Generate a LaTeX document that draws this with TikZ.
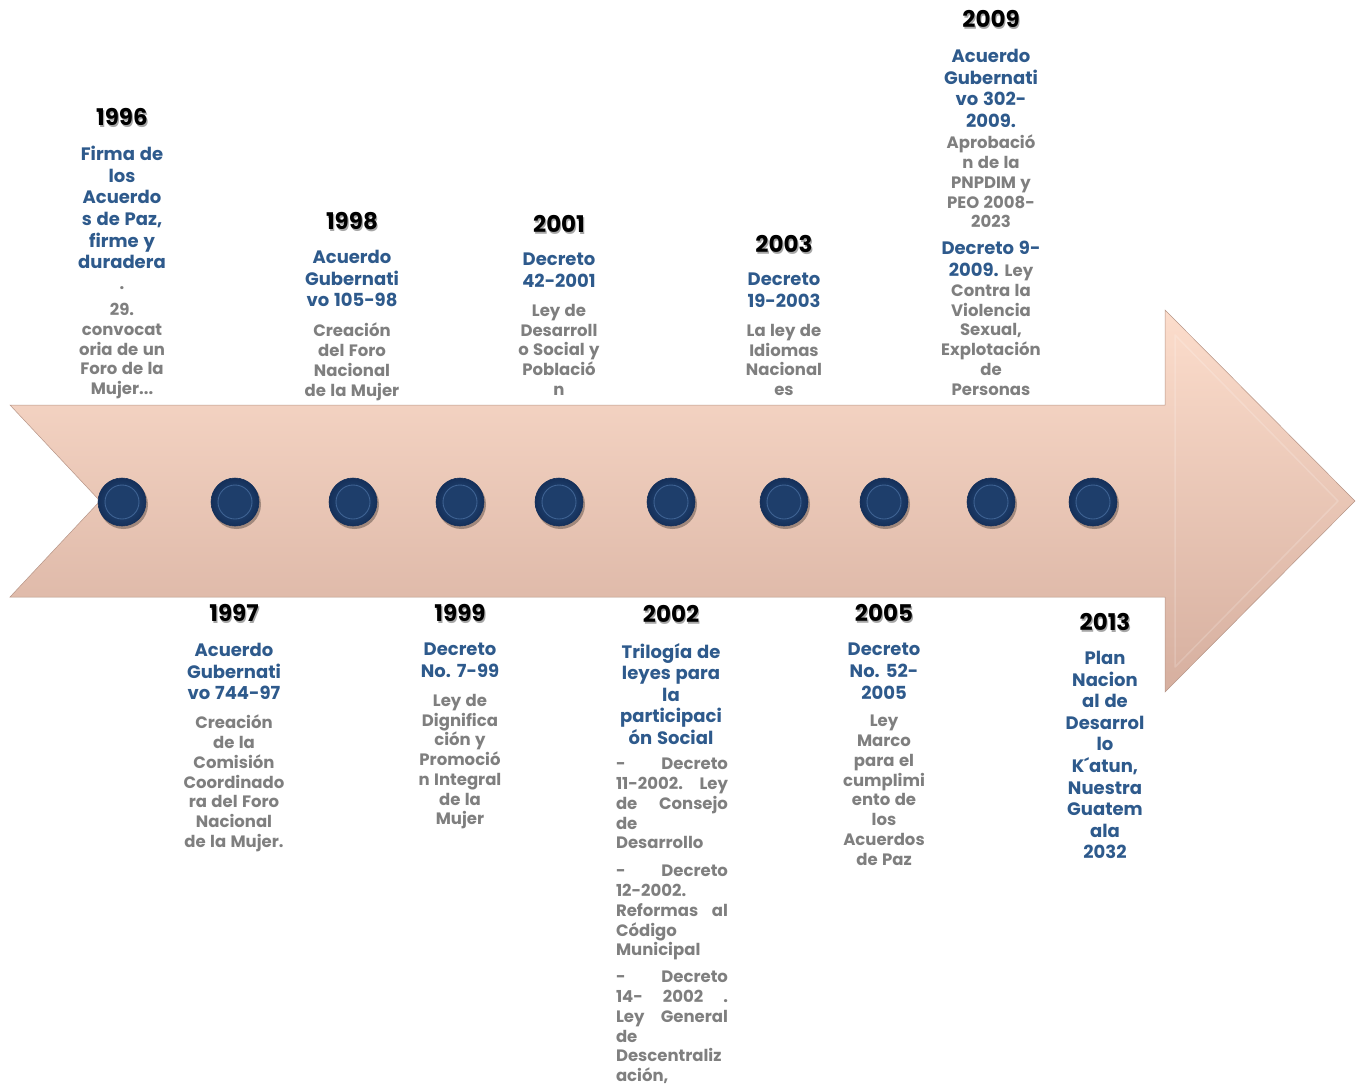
\documentclass[tikz,border=0pt]{standalone}
\usepackage{fontspec}
\setmainfont{Poppins}[WordSpace={1.25}]
\definecolor{tblue}{HTML}{2E5A8C}
\definecolor{tgrey}{HTML}{7F7F7F}
\definecolor{peachT}{HTML}{FCDDCC}
\definecolor{peachB}{HTML}{D6AF9F}
\definecolor{navyA}{HTML}{2A5182}
\definecolor{navyB}{HTML}{15305A}
\definecolor{navyC}{HTML}{1E3E6B}
\definecolor{navyR}{HTML}{3F6394}
\tikzset{
  yr/.style={font=\fontsize{23}{27}\selectfont\bfseries, text=black, inner sep=0pt, anchor=north},
  yrsh/.style={font=\fontsize{23}{27}\selectfont\bfseries, text=black!35, inner sep=0pt, anchor=north},
  bl/.style={font=\fontsize{18}{21.6}\selectfont\bfseries, text=tblue, align=center, inner sep=0pt, anchor=north},
  gr/.style={font=\fontsize{16.5}{19.75}\selectfont\bfseries, text=tgrey, align=center, inner sep=0pt, anchor=north},
  grj/.style={font=\fontsize{16.5}{19.75}\selectfont\bfseries, text=tgrey, align=left, inner sep=0pt, anchor=north},
  dot/.style={shape=circle, minimum size=48pt, inner sep=0pt, draw=navyB, line width=0.6pt, inner color=navyA, outer color=navyB},
}
\newcommand{\yearlabel}[3]{%
  \node[yrsh] at ([xshift=1.2pt,yshift=-2pt]#1) {#3};
  \node[yr] (#2) at (#1) {#3};}
\newcommand{\jl}[1]{\makebox[112pt][s]{#1}}
\begin{document}
\begin{tikzpicture}[x=1pt,y=-1pt]
\useasboundingbox (0,0) rectangle (1363,1085);
% arrow
\path[top color=peachT, bottom color=peachB, draw=peachB!85!black, line width=0.5pt]
  (10,405) -- (1165,405) -- (1165,310) -- (1355,501) -- (1165,692) -- (1165,597)
  -- (10,597) -- (100,501) -- cycle;
\draw[white, opacity=0.18, line width=1.5pt, line join=round]
  (1175,335) -- (1338,501) -- (1175,667) -- cycle;
% dots
\foreach \n/\x in {1/122,2/235,3/353,4/460,5/559,6/671,7/784,8/884,9/991,10/1093}{
  \fill[black, opacity=0.3] (\x+1.5,504.5) circle (24.5);
  \node[dot] (c\n) at (\x,502) {};
  \fill[navyC] (c\n) circle (16.5);
  \draw[navyR, line width=0.9pt] (c\n) circle (17);
}
% ---------- top labels ----------
\yearlabel{122,108}{y1996}{1996}
\node[bl] (b1996) at (122,146) {Firma de\\los\\Acuerdo\\s de Paz,\\firme y\\duradera};
\node[gr, anchor=base] (p1996) at (122,289) {.};
\node[gr] (g1996) at (122,303) {29.\\convocat\\oria de un\\Foro de la\\Mujer...};

\yearlabel{352,212}{y1998}{1998}
\node[bl] (b1998) at (352,250) {Acuerdo\\Gubernati\\vo 105-98};
\node[gr] (g1998) at (352,323) {Creación\\del Foro\\Nacional\\de la Mujer};

\yearlabel{559,215}{y2001}{2001}
\node[bl] (b2001) at (559,253) {Decreto\\42-2001};
\node[gr] (g2001) at (559,304) {Ley de\\Desarroll\\o Social y\\Població\\n};

\yearlabel{784,235}{y2003}{2003}
\node[bl] (b2003) at (784,273) {Decreto\\19-2003};
\node[gr] (g2003) at (784,324) {La ley de\\Idiomas\\Nacional\\es};

\yearlabel{991,10}{y2009}{2009}
\node[bl] (b2009) at (991,49) {Acuerdo\\Gubernati\\vo 302-\\2009.};
\node[gr] (g2009) at (991,135) {Aprobació\\n de la\\PNPDIM y\\PEO 2008-\\2023};
\node[bl] (b2009b) at (991,241) {Decreto 9-\\2009. {\color{tgrey}\fontsize{16.5}{19.75}\selectfont Ley}};
\node[gr] (g2009b) at (991,284) {Contra la\\Violencia\\Sexual,\\Explotación\\de\\Personas};

% ---------- bottom labels ----------
\yearlabel{234,604}{y1997}{1997}
\node[bl] (b1997) at (234,643) {Acuerdo\\Gubernati\\vo 744-97};
\node[gr] (g1997) at (234,715) {Creación\\de la\\Comisión\\Coordinado\\ra del Foro\\Nacional\\de la Mujer.};

\yearlabel{460,604}{y1999}{1999}
\node[bl] (b1999) at (460,643) {Decreto\\No. 7-99};
\node[gr] (g1999) at (460,694) {Ley de\\Dignifica\\ción y\\Promoció\\n Integral\\de la\\Mujer};

\yearlabel{671,605}{y2002}{2002}
\node[bl] (b2002) at (671,643) {Trilogía de\\leyes para\\la\\participaci\\ón Social};
\node[grj] (g2002a) at (672,758) {\jl{- Decreto}\\\jl{11-2002. Ley}\\\jl{de Consejo}\\de\\Desarrollo};
\node[grj] (g2002b) at (672,865) {\jl{- Decreto}\\12-2002.\\\jl{Reformas al}\\Código\\Municipal};
\node[grj] (g2002c) at (672,971) {\jl{- Decreto}\\\jl{14- 2002 .}\\\jl{Ley General}\\de\\Descentraliz\\ación,};

\yearlabel{884,604}{y2005}{2005}
\node[bl] (b2005) at (884,643) {Decreto\\No. 52-\\2005};
\node[gr] (g2005) at (884,715) {Ley\\Marco\\para el\\cumplimi\\ento de\\los\\Acuerdos\\de Paz};

\yearlabel{1105,613}{y2013}{2013}
\node[bl] (b2013) at (1105,651) {Plan\\Nacion\\al de\\Desarrol\\lo\\K´atun,\\Nuestra\\Guatem\\ala\\2032};
\end{tikzpicture}
\end{document}
